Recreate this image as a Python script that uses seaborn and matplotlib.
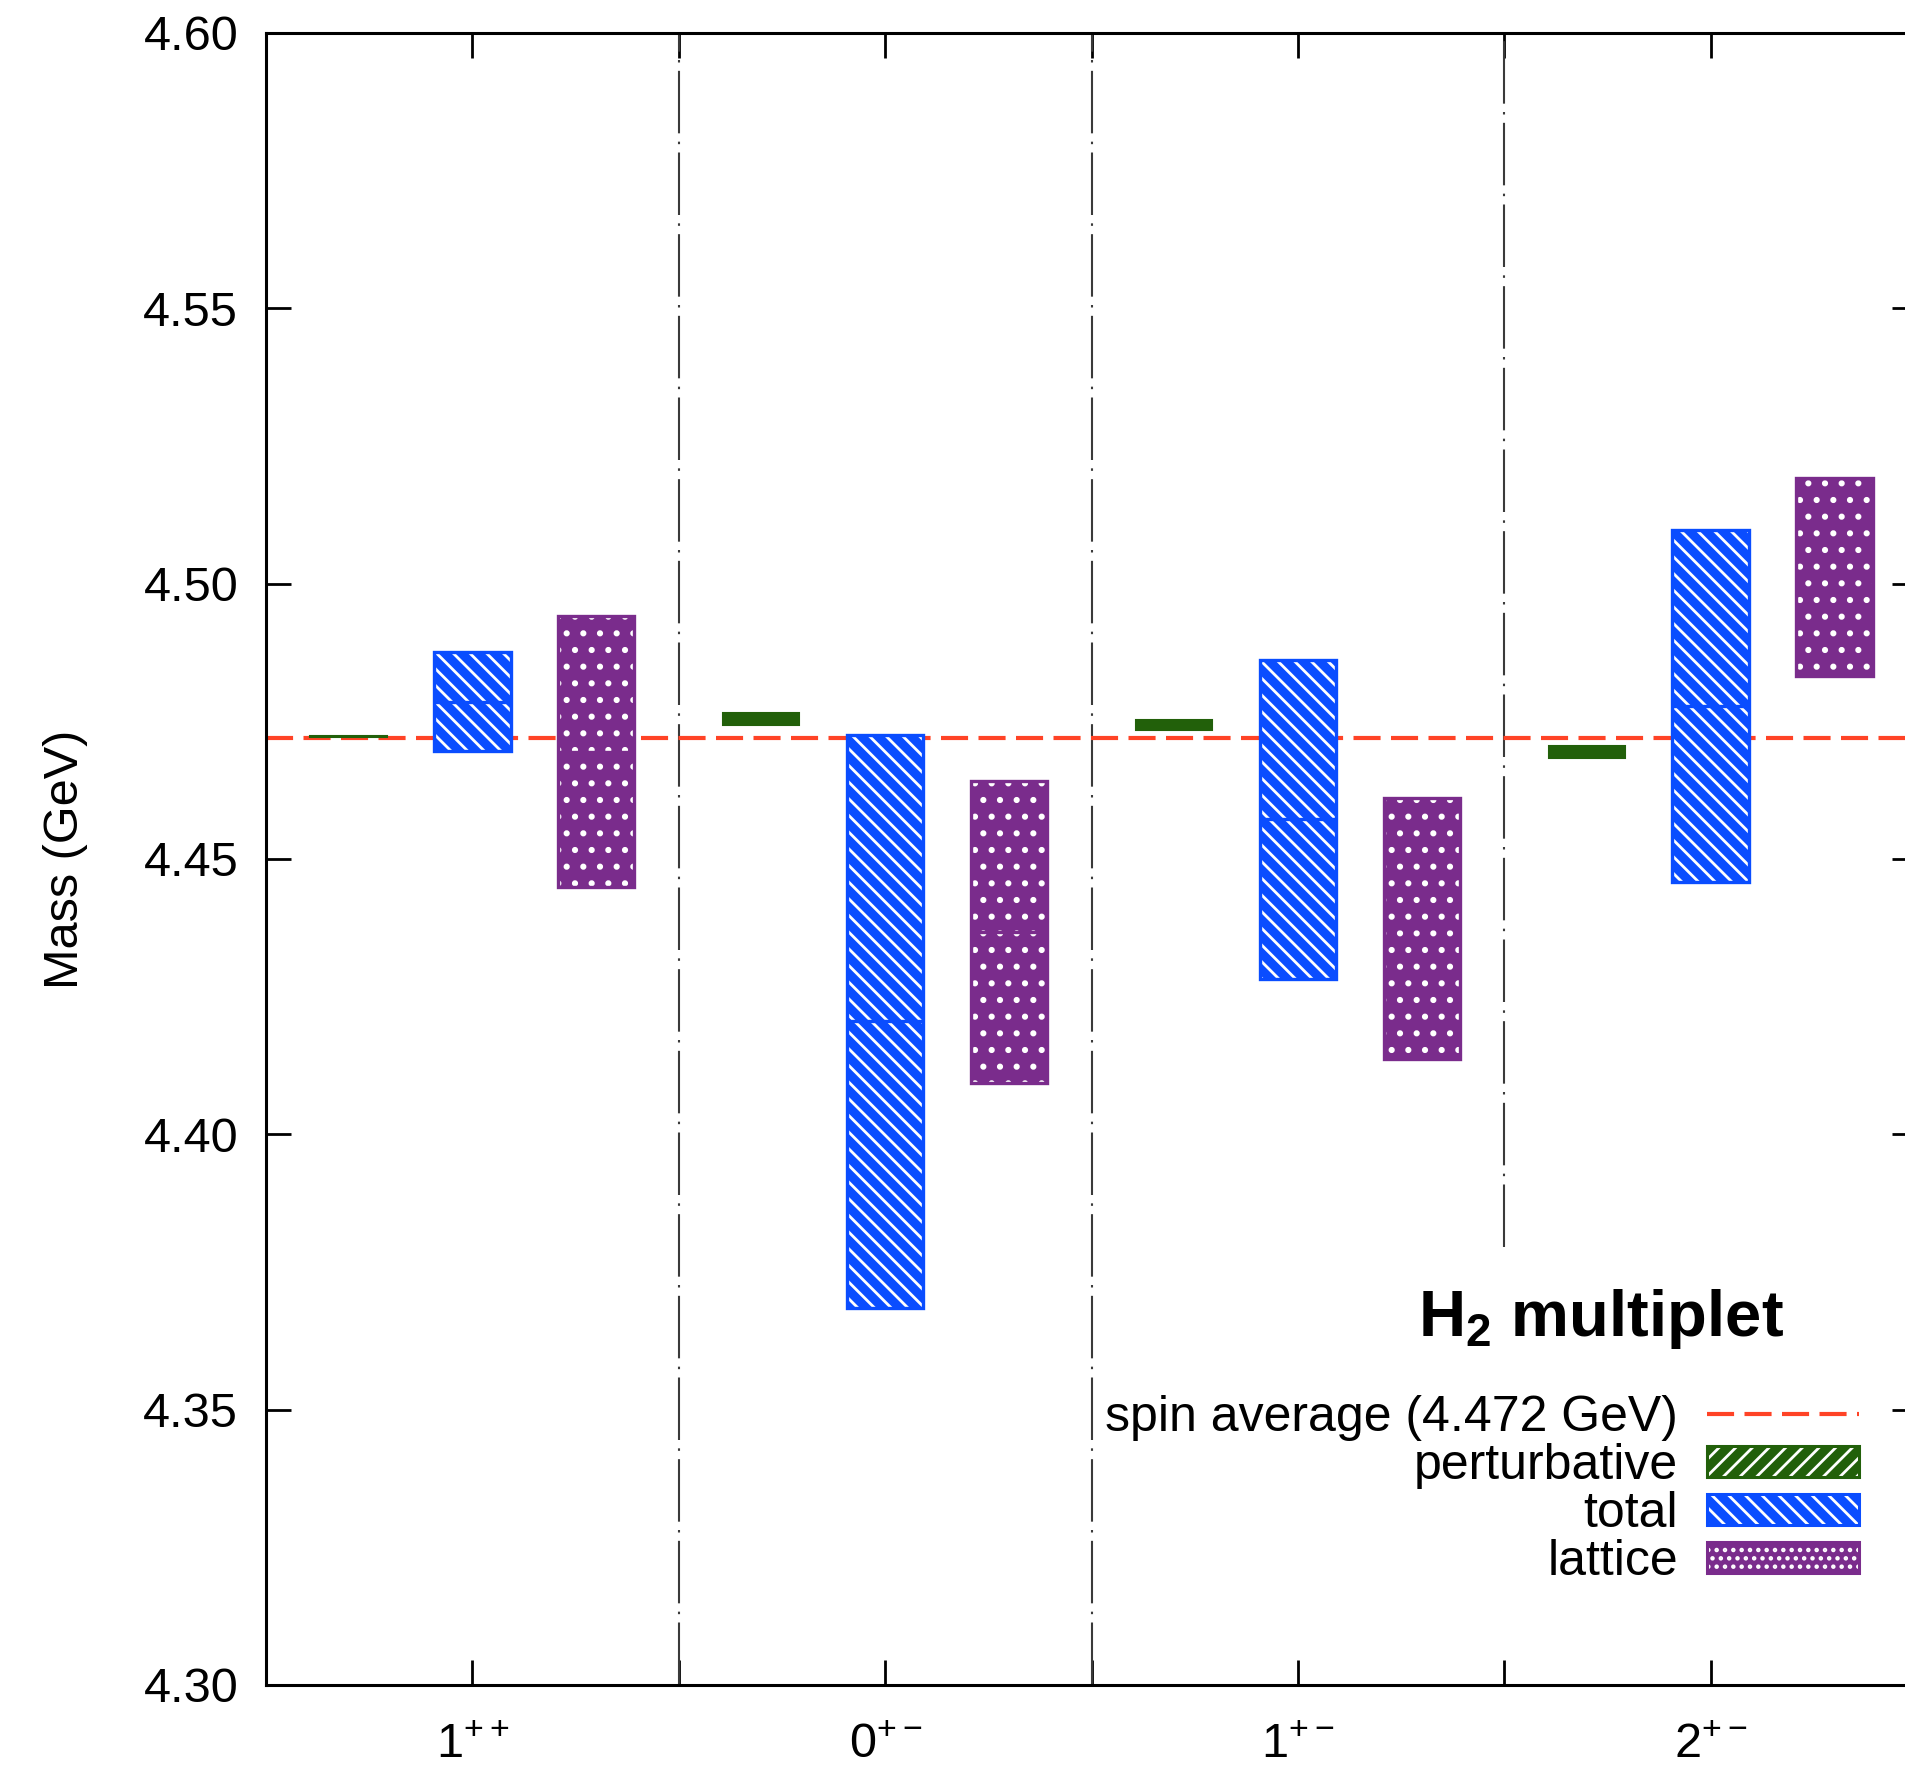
import matplotlib
matplotlib.use("Agg")
import matplotlib.pyplot as plt
from matplotlib.patches import Patch
from matplotlib.lines import Line2D
import numpy as np
import seaborn as sns

# Quantum-number channels of the H2 multiplet
states = ["$1^{++}$", "$0^{+-}$", "$1^{+-}$", "$2^{+-}$"]

# Spin-averaged mass (GeV)
spin_average = 4.472

# Perturbative estimate: central value and half-width (GeV)
pert_mass = [4.4722, 4.4754, 4.4743, 4.4694]
pert_err = [0.0001, 0.0011, 0.0009, 0.0011]

# Total (lattice + perturbative) estimate
total_mass = [4.4786, 4.4205, 4.4572, 4.4778]
total_err = [0.0090, 0.0520, 0.0290, 0.0320]

# Lattice estimate
lattice_mass = [4.4695, 4.4368, 4.4374, 4.5012]
lattice_err = [0.0246, 0.0274, 0.0237, 0.0180]

yticks = [4.30, 4.35, 4.40, 4.45, 4.50, 4.55, 4.60]
legend_labels = ["spin average (4.472 GeV)", "perturbative", "total", "lattice"]

RED = "#ff4326"
GREEN = "#22600a"
BLUE = "#0a4dff"
PURPLE = "#7a2c8c"
SEP = "#3a3a3a"

sns.set_theme(style="ticks")
plt.rcParams.update({
    "font.family": ["Liberation Sans", "DejaVu Sans"],
    "mathtext.fontset": "custom",
    "mathtext.rm": "Liberation Sans",
    "mathtext.it": "Liberation Sans:italic",
    "mathtext.bf": "Liberation Sans:bold",
    "hatch.linewidth": 2.0,
    "axes.edgecolor": "black",
    "xtick.color": "black",
    "ytick.color": "black",
    "text.color": "black",
    "axes.labelcolor": "black",
})

W, H = 1905, 1766
fig = plt.figure(figsize=(W / 100, H / 100), dpi=100)
ax = fig.add_axes([266 / W, 81 / H, 1651 / W, 1652 / H])
ax.set_facecolor("white")

xpos = np.arange(1, len(states) + 1)
width = 0.185

# channel separators (the last one stops beneath the key)
sep_style = dict(color=SEP, lw=1.5, linestyle=(0, (30, 4, 1.2, 4)), zorder=1)
for xs in (1.5, 2.5):
    ax.axvline(xs, **sep_style)
ax.vlines(3.5, 4.3795, 4.60, **sep_style)

# spin average reference line
ax.axhline(spin_average, color=RED, lw=3.0, linestyle=(0, (6.5, 2.5)), zorder=1.5)


def hatched_boxes(xc, mass, err, color, hatch, z):
    mass = np.asarray(mass)
    err = np.asarray(err)
    ax.bar(xc, 2 * err, bottom=mass - err, width=width, color=color,
           edgecolor="white", hatch=hatch, linewidth=0, zorder=z)
    ax.bar(xc, 2 * err, bottom=mass - err, width=width, fill=False,
           edgecolor=color, linewidth=2.4, zorder=z + 0.1)
    ax.hlines(mass, xc - width / 2, xc + width / 2, color=color, lw=2.4,
              zorder=z + 0.1)


# perturbative: thin solid boxes
pm = np.asarray(pert_mass)
pe = np.asarray(pert_err)
ax.bar(xpos - 0.3, 2 * pe, bottom=pm - pe, width=width, color=GREEN,
       edgecolor=GREEN, linewidth=1.5, zorder=3)

hatched_boxes(xpos, total_mass, total_err, BLUE, "\\\\", 3)
hatched_boxes(xpos + 0.3, lattice_mass, lattice_err, PURPLE, ".", 3)

ax.set_xlim(0.5, 4.5)
ax.set_ylim(4.30, 4.60)
ax.set_xticks(xpos)
ax.set_xticklabels(states)
ax.set_xticks([1.5, 2.5, 3.5], minor=True)
ax.set_yticks(yticks)
ax.set_yticklabels([f"{v:.2f}" for v in yticks])
ax.tick_params(which="both", direction="in", length=18, width=2.0,
               top=True, right=True, labelsize=35)
ax.tick_params(axis="x", pad=27)
ax.tick_params(axis="y", pad=20)
for s in ax.spines.values():
    s.set_linewidth(2.2)
    s.set_color("black")
    s.set_zorder(5)

ax.set_ylabel("Mass (GeV)", fontsize=35)
ax.yaxis.set_label_coords(-0.1078, 0.5)

# key
handles = [
    Line2D([], [], color=RED, lw=3.0, linestyle=(0, (6.5, 2.5))),
    (Patch(facecolor=GREEN, edgecolor="white", hatch="//", lw=0),
     Patch(fill=False, edgecolor=GREEN, lw=2.2)),
    (Patch(facecolor=BLUE, edgecolor="white", hatch="\\\\", lw=0),
     Patch(fill=False, edgecolor=BLUE, lw=2.2)),
    (Patch(facecolor=PURPLE, edgecolor="white", hatch="..", lw=0),
     Patch(fill=False, edgecolor=PURPLE, lw=2.2)),
]
fig.legend(handles, legend_labels, loc="center right",
           bbox_to_anchor=(1859 / W, 1 - 1490 / H), bbox_transform=fig.transFigure,
           frameon=False, markerfirst=False, handlelength=3.05, handleheight=0.6,
           handletextpad=0.57, labelspacing=0.04, borderpad=0, borderaxespad=0,
           fontsize=36)
fig.text(1601 / W, 1 - 1336 / H, r"H$_\mathbf{2}$ multiplet", fontsize=47,
         fontweight="bold", ha="center", va="baseline")

fig.savefig("out.png", dpi=100, facecolor="white")
